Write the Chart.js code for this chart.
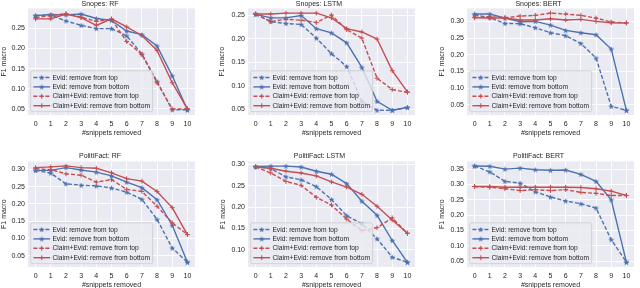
<!DOCTYPE html>
<html>
<head>
<meta charset="utf-8">
<script src="https://cdn.jsdelivr.net/npm/chart.js@4.4.1/dist/chart.umd.min.js"></script>
<style>
  html, body { margin: 0; padding: 0; background: #fff; }
  body { width: 640px; height: 288px; position: relative; overflow: hidden; }
  canvas { position: absolute; }
</style>
</head>
<body>
<canvas id="c0"></canvas>
<canvas id="c1"></canvas>
<canvas id="c2"></canvas>
<canvas id="c3"></canvas>
<canvas id="c4"></canvas>
<canvas id="c5"></canvas>
<script>
const snippets = [0, 1, 2, 3, 4, 5, 6, 7, 8, 9, 10];
const seriesNames = ['Evid: remove from top', 'Evid: remove from bottom', 'Claim+Evid: remove from top', 'Claim+Evid: remove from bottom'];

// Snopes: RF
const snopesRfEvidTop = [0.281, 0.282, 0.268, 0.257, 0.249, 0.249, 0.231, 0.186, 0.118, 0.048, 0.048];
const snopesRfEvidBottom = [0.281, 0.284, 0.283, 0.285, 0.274, 0.269, 0.243, 0.234, 0.206, 0.132, 0.048];
const snopesRfClaimTop = [0.276, 0.281, 0.286, 0.277, 0.267, 0.272, 0.217, 0.185, 0.115, 0.050, 0.050];
const snopesRfClaimBottom = [0.273, 0.273, 0.285, 0.276, 0.257, 0.273, 0.253, 0.232, 0.195, 0.115, 0.050];
const snopesRfTicks = [0.05, 0.10, 0.15, 0.20, 0.25];

// Snopes: LSTM
const snopesLstmEvidTop = [0.252, 0.236, 0.232, 0.230, 0.201, 0.168, 0.141, 0.067, 0.048, 0.048, 0.054];
const snopesLstmEvidBottom = [0.252, 0.244, 0.244, 0.249, 0.221, 0.212, 0.191, 0.139, 0.067, 0.048, 0.054];
const snopesLstmClaimTop = [0.252, 0.236, 0.241, 0.239, 0.234, 0.250, 0.219, 0.201, 0.116, 0.092, 0.086];
const snopesLstmClaimBottom = [0.252, 0.252, 0.254, 0.254, 0.254, 0.244, 0.221, 0.214, 0.199, 0.132, 0.087];
const snopesLstmTicks = [0.05, 0.10, 0.15, 0.20, 0.25];

// Snopes: BERT
const snopesBertEvidTop = [0.320, 0.311, 0.294, 0.293, 0.281, 0.266, 0.257, 0.234, 0.190, 0.045, 0.033];
const snopesBertEvidBottom = [0.322, 0.322, 0.310, 0.299, 0.300, 0.289, 0.273, 0.266, 0.260, 0.217, 0.033];
const snopesBertClaimTop = [0.312, 0.314, 0.311, 0.316, 0.318, 0.325, 0.322, 0.318, 0.310, 0.298, 0.296];
const snopesBertClaimBottom = [0.311, 0.310, 0.310, 0.304, 0.304, 0.308, 0.304, 0.306, 0.300, 0.296, 0.295];
const snopesBertTicks = [0.05, 0.10, 0.15, 0.20, 0.25, 0.30];

// PolitiFact: RF
const politiRfEvidTop = [0.297, 0.289, 0.258, 0.254, 0.252, 0.246, 0.234, 0.213, 0.155, 0.072, 0.031];
const politiRfEvidBottom = [0.297, 0.297, 0.305, 0.298, 0.292, 0.281, 0.263, 0.247, 0.212, 0.138, 0.031];
const politiRfClaimTop = [0.302, 0.299, 0.287, 0.283, 0.263, 0.270, 0.242, 0.236, 0.193, 0.145, 0.111];
const politiRfClaimBottom = [0.305, 0.307, 0.310, 0.305, 0.303, 0.290, 0.273, 0.266, 0.236, 0.189, 0.111];
const politiRfTicks = [0.05, 0.10, 0.15, 0.20, 0.25, 0.30];

// PolitiFact: LSTM
const politiLstmEvidTop = [0.295, 0.290, 0.271, 0.264, 0.248, 0.218, 0.180, 0.161, 0.126, 0.083, 0.071];
const politiLstmEvidBottom = [0.295, 0.296, 0.296, 0.294, 0.284, 0.277, 0.255, 0.214, 0.181, 0.122, 0.071];
const politiLstmClaimTop = [0.294, 0.280, 0.260, 0.251, 0.223, 0.205, 0.172, 0.145, 0.152, 0.175, 0.139];
const politiLstmClaimBottom = [0.294, 0.291, 0.284, 0.280, 0.273, 0.259, 0.247, 0.230, 0.202, 0.170, 0.139];
const politiLstmTicks = [0.10, 0.15, 0.20, 0.25, 0.30];

// PolitiFact: BERT
const politiBertEvidTop = [0.360, 0.341, 0.310, 0.304, 0.276, 0.259, 0.246, 0.237, 0.223, 0.120, 0.047];
const politiBertEvidBottom = [0.360, 0.359, 0.350, 0.353, 0.348, 0.346, 0.347, 0.333, 0.310, 0.250, 0.047];
const politiBertClaimTop = [0.293, 0.291, 0.286, 0.280, 0.283, 0.280, 0.283, 0.274, 0.271, 0.264, 0.264];
const politiBertClaimBottom = [0.293, 0.293, 0.291, 0.291, 0.291, 0.291, 0.291, 0.290, 0.286, 0.278, 0.264];
const politiBertTicks = [0.05, 0.10, 0.15, 0.20, 0.25, 0.30, 0.35];

const BLUE = '#4C72B0';
const RED = '#C44E52';
const TEXT = '#262626';
const FONT = '"Liberation Sans", Arial, sans-serif';

// layout of the 6 panels (canvas box + y axis width)
const panels = [
  { title: 'Snopes: RF', series: [snopesRfEvidTop, snopesRfEvidBottom, snopesRfClaimTop, snopesRfClaimBottom], ticks: snopesRfTicks, min: 0.035, max: 0.299, left: 0, top: 0, w: 200, yw: 28, gap: 0 },
  { title: 'Snopes: LSTM', series: [snopesLstmEvidTop, snopesLstmEvidBottom, snopesLstmClaimTop, snopesLstmClaimBottom], ticks: snopesLstmTicks, min: 0.038, max: 0.264, left: 218, top: 0, w: 202, yw: 30, gap: 0 },
  { title: 'Snopes: BERT', series: [snopesBertEvidTop, snopesBertEvidBottom, snopesBertClaimTop, snopesBertClaimBottom], ticks: snopesBertTicks, min: 0.019, max: 0.339, left: 438, top: 0, w: 201, yw: 29, gap: 0 },
  { title: 'PolitiFact: RF', series: [politiRfEvidTop, politiRfEvidBottom, politiRfClaimTop, politiRfClaimBottom], ticks: politiRfTicks, min: 0.017, max: 0.323, left: 0, top: 152, w: 200, yw: 28, gap: 1 },
  { title: 'PolitiFact: LSTM', series: [politiLstmEvidTop, politiLstmEvidBottom, politiLstmClaimTop, politiLstmClaimBottom], ticks: politiLstmTicks, min: 0.060, max: 0.307, left: 219, top: 152, w: 201, yw: 29, gap: 1 },
  { title: 'PolitiFact: BERT', series: [politiBertEvidTop, politiBertEvidBottom, politiBertClaimTop, politiBertClaimBottom], ticks: politiBertTicks, min: 0.031, max: 0.375, left: 438, top: 152, w: 201, yw: 29, gap: 1 }
];
const CANVAS_H = 137;

// filled star marker like matplotlib '*'
function makeStar(color) {
  const c = document.createElement('canvas');
  c.width = 7; c.height = 7;
  const g = c.getContext('2d');
  g.fillStyle = color;
  g.beginPath();
  for (let i = 0; i < 10; i++) {
    const r = i % 2 ? 1.3 : 3.1;
    const a = -Math.PI / 2 + i * Math.PI / 5;
    g.lineTo(3.5 + r * Math.cos(a), 3.8 + r * Math.sin(a));
  }
  g.closePath();
  g.fill();
  return c;
}
const blueStar = makeStar(BLUE);

const plotBg = {
  id: 'plotBg',
  beforeDraw(chart) {
    const { ctx, chartArea: a } = chart;
    ctx.save();
    ctx.fillStyle = '#EAEAF2';
    ctx.fillRect(a.left, a.top, a.width, a.height);
    ctx.restore();
  }
};

// matplotlib-like legend box in the lower left corner
const boxLegend = {
  id: 'boxLegend',
  afterDatasetsDraw(chart) {
    const { ctx, chartArea } = chart;
    const items = chart.data.datasets;
    const rowH = 9.4, pad = 2.7, handle = 16.7, gap = 2.3;
    ctx.save();
    ctx.font = '6.7px ' + FONT;
    const textW = Math.max(...items.map(d => ctx.measureText(d.label).width));
    const w = pad + handle + gap + textW + pad;
    const h = rowH * items.length + 3.3;
    const x = chartArea.left + 2.7;
    const y = chartArea.bottom - 3.3 - h;
    ctx.beginPath();
    if (ctx.roundRect) ctx.roundRect(x, y, w, h, 2); else ctx.rect(x, y, w, h);
    ctx.fillStyle = 'rgba(234,234,242,0.8)';
    ctx.fill();
    ctx.strokeStyle = '#cccccc';
    ctx.lineWidth = 0.8;
    ctx.stroke();
    items.forEach((d, i) => {
      const cy = y + 6.7 + i * rowH;
      ctx.strokeStyle = d.borderColor;
      ctx.lineWidth = d.borderWidth;
      ctx.setLineDash(d.borderDash || []);
      ctx.beginPath();
      ctx.moveTo(x + pad, cy);
      ctx.lineTo(x + pad + handle, cy);
      ctx.stroke();
      ctx.setLineDash([]);
      ctx.strokeStyle = d.pointBorderColor;
      ctx.fillStyle = d.pointBackgroundColor;
      ctx.lineWidth = d.pointBorderWidth;
      Chart.helpers.drawPoint(ctx, { pointStyle: d.pointStyle, radius: d.pointRadius, borderWidth: d.pointBorderWidth, rotation: 0 }, x + pad + handle / 2, cy);
      ctx.fillStyle = TEXT;
      ctx.textBaseline = 'middle';
      ctx.textAlign = 'left';
      ctx.fillText(d.label, x + pad + handle + gap, cy + 0.3);
    });
    ctx.restore();
  }
};

function makeDataset(i, values) {
  const color = i < 2 ? BLUE : RED;
  return {
    label: seriesNames[i],
    data: values,
    borderColor: color,
    backgroundColor: color,
    borderWidth: 1.4,
    borderDash: i % 2 === 0 ? [4, 2] : [],
    pointStyle: i < 2 ? blueStar : 'cross',
    pointRadius: 2.4,
    pointBorderWidth: 1,
    pointBorderColor: color,
    pointBackgroundColor: color,
    tension: 0,
    order: 3 - i
  };
}

panels.forEach((p, idx) => {
  const canvas = document.getElementById('c' + idx);
  canvas.width = p.w;
  canvas.height = CANVAS_H;
  canvas.style.left = p.left + 'px';
  canvas.style.top = p.top + 'px';
  canvas.style.width = p.w + 'px';
  canvas.style.height = CANVAS_H + 'px';

  new Chart(canvas.getContext('2d'), {
    type: 'line',
    data: {
      labels: snippets,
      datasets: p.series.map((s, i) => makeDataset(i, s))
    },
    options: {
      responsive: false,
      animation: false,
      devicePixelRatio: 1,
      layout: { padding: 0 },
      plugins: {
        legend: { display: false },
        tooltip: { enabled: false },
        title: {
          display: true,
          text: p.title,
          color: TEXT,
          font: { family: FONT, size: 7, weight: 'normal', lineHeight: 1.2 },
          padding: { top: 0, bottom: p.gap }
        }
      },
      scales: {
        x: {
          type: 'linear',
          min: -0.5,
          max: 10.5,
          afterBuildTicks: s => { s.ticks = snippets.map(v => ({ value: v })); },
          afterFit: s => { s.height = 22; s.paddingLeft = 0; s.paddingRight = 0; },
          grid: { color: '#ffffff', lineWidth: 0.9, drawTicks: false },
          border: { display: false },
          ticks: { padding: 5, color: TEXT, maxRotation: 0, autoSkip: false, font: { family: FONT, size: 7 }, callback: v => String(v) },
          title: { display: true, text: '#snippets removed', color: TEXT, padding: 0, font: { family: FONT, size: 7, lineHeight: 1.2 } }
        },
        y: {
          min: p.min,
          max: p.max,
          afterBuildTicks: s => { s.ticks = p.ticks.map(v => ({ value: v })); },
          afterFit: s => { s.width = p.yw; s.paddingTop = 0; s.paddingBottom = 0; },
          grid: { color: '#ffffff', lineWidth: 0.9, drawTicks: false },
          border: { display: false },
          ticks: { padding: 3, color: TEXT, font: { family: FONT, size: 7 }, callback: v => v.toFixed(2) },
          title: { display: true, text: 'F1 macro', color: TEXT, padding: 0, font: { family: FONT, size: 7, lineHeight: 1.2 } }
        }
      }
    },
    plugins: [plotBg, boxLegend]
  });
});
</script>
</body>
</html>
